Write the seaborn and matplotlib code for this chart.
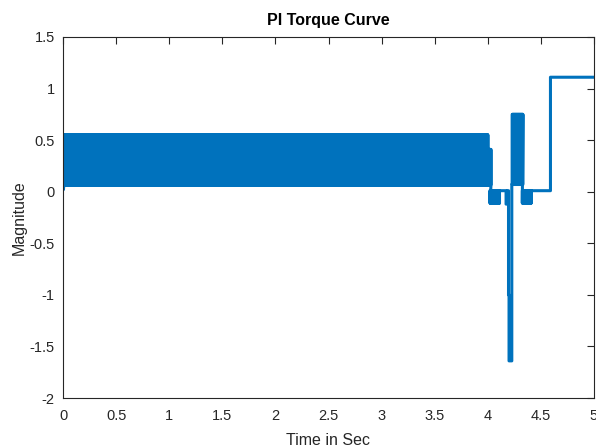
import numpy as np
import pandas as pd
import matplotlib
matplotlib.use("Agg")
import matplotlib.pyplot as plt
import seaborn as sns

# Oscillating (fast switching) segments
band_start = [0.008, 4.000, 4.020, 4.230, 4.325]
band_end   = [4.000, 4.030, 4.110, 4.330, 4.410]
band_low   = [0.065, 0.065, -0.110, 0.070, -0.110]
band_high  = [0.550, 0.410, 0.010, 0.750, 0.010]
switch_period = 0.002

# Non-oscillating path pieces (time, value), placed before/after bands
lead_t = [0.0, 0.004]
lead_v = [0.20, 0.02]
mid_t = [4.110, 4.172, 4.172, 4.183, 4.183, 4.195, 4.195, 4.200, 4.200, 4.226, 4.226]
mid_v = [0.010, 0.010, -0.120, -0.120, 0.010, 0.010, -1.000, -1.000, -1.640, -1.640, 0.070]
tail_t = [4.410, 4.590, 4.590, 5.000]
tail_v = [0.010, 0.010, 1.110, 1.110]

def band_path(i):
    ts, vs = [], []
    n = int(round((band_end[i] - band_start[i]) / switch_period))
    for k in range(n + 1):
        t = band_start[i] + k * (band_end[i] - band_start[i]) / max(n, 1)
        if k % 2 == 0:
            ts += [t, t]; vs += [band_low[i], band_high[i]]
        else:
            ts += [t, t]; vs += [band_high[i], band_low[i]]
    return ts, vs

T, V = list(lead_t), list(lead_v)
for i in range(3):
    t, v = band_path(i); T += t; V += v
T += mid_t; V += mid_v
for i in range(3, 5):
    t, v = band_path(i); T += t; V += v
T += tail_t; V += tail_v
df = pd.DataFrame({"t": T, "v": V})

sns.set_style("white")
plt.rcParams["font.family"] = ["Liberation Sans", "DejaVu Sans"]

fig = plt.figure(figsize=(5.96, 4.48), dpi=100)
ax = fig.add_axes([63/596, 1-398/448, (594-63)/596, (398-37)/448])
sns.lineplot(data=df, x="t", y="v", sort=False, estimator=None, ax=ax,
             color="#0072BD", linewidth=2.2, solid_joinstyle="round", solid_capstyle="round")

ax.set_xlim(0, 5)
ax.set_ylim(-2, 1.5)
xt = [0, 0.5, 1, 1.5, 2, 2.5, 3, 3.5, 4, 4.5, 5]
yt = [-2, -1.5, -1, -0.5, 0, 0.5, 1, 1.5]
ax.set_xticks(xt)
ax.set_xticklabels(["0", "0.5", "1", "1.5", "2", "2.5", "3", "3.5", "4", "4.5", "5"])
ax.set_yticks(yt)
ax.set_yticklabels(["-2", "-1.5", "-1", "-0.5", "0", "0.5", "1", "1.5"])
ax.tick_params(direction="in", length=5, width=0.8, colors="#262626",
               top=True, right=True, labelsize=10.5)
ax.tick_params(axis="x", pad=8)
ax.tick_params(axis="y", pad=6)
for s in ax.spines.values():
    s.set_color("#262626"); s.set_linewidth(0.8); s.set_visible(True)
ax.set_xlabel("Time in Sec", fontsize=11.5, color="#262626", labelpad=7)
ax.set_ylabel("Magnitude", fontsize=11.5, color="#262626", labelpad=2)
ax.set_title("PI Torque Curve", fontsize=11.5, fontweight="bold", color="black", pad=9)

fig.savefig("out.png", dpi=100)
